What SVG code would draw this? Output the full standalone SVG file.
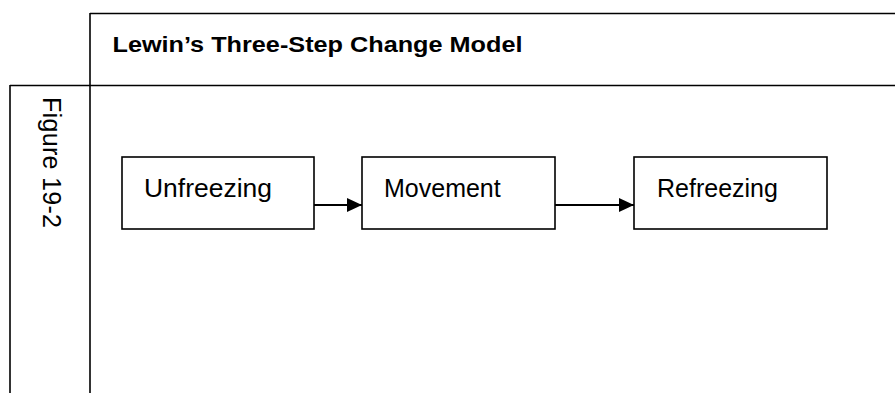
<svg xmlns="http://www.w3.org/2000/svg" width="895" height="393" viewBox="0 0 895 393">
  <style>
    .grid { stroke: #000; stroke-width: 1.6; fill: none; }
    .box { fill: #fff; stroke: #000; stroke-width: 1.6; }
    .lbl { font-family: "Liberation Sans", Arial, sans-serif; font-size: 25px; fill: #000; }
    .title { font-family: "Liberation Sans", Arial, sans-serif; font-size: 22.5px; font-weight: bold; fill: #000; }
    .conn { stroke: #000; stroke-width: 2; fill: none; }
  </style>
  <defs>
    <marker id="arrow" markerWidth="16" markerHeight="14" refX="15" refY="7" orient="auto" markerUnits="userSpaceOnUse">
      <path d="M0,0 L15,7 L0,14 Z" fill="#000"/>
    </marker>
  </defs>
  <rect width="895" height="393" fill="#fff"/>
  <g id="frame">
    <line class="grid" x1="90" y1="13.5" x2="895" y2="13.5"/>
    <line class="grid" x1="10" y1="85.5" x2="895" y2="85.5"/>
    <line class="grid" x1="10" y1="85" x2="10" y2="393"/>
    <line class="grid" x1="90" y1="13" x2="90" y2="393"/>
  </g>
  <g id="title">
    <text class="title" x="112.5" y="51.5" textLength="410" lengthAdjust="spacingAndGlyphs">Lewin’s Three-Step Change Model</text>
  </g>
  <g id="figure-label">
    <text class="lbl" transform="translate(43,97) rotate(90)" textLength="131" lengthAdjust="spacing">Figure 19-2</text>
  </g>
  <g id="connectors">
    <line class="conn" x1="314" y1="205" x2="362" y2="205" marker-end="url(#arrow)"/>
    <line class="conn" x1="555" y1="205" x2="634" y2="205" marker-end="url(#arrow)"/>
  </g>
  <g id="node-unfreezing">
    <rect class="box" x="122" y="157" width="192" height="72"/>
    <text class="lbl" x="144" y="197" textLength="128" lengthAdjust="spacingAndGlyphs">Unfreezing</text>
  </g>
  <g id="node-movement">
    <rect class="box" x="362" y="157" width="193" height="72"/>
    <text class="lbl" x="384" y="197">Movement</text>
  </g>
  <g id="node-refreezing">
    <rect class="box" x="634" y="157" width="193" height="72"/>
    <text class="lbl" x="657" y="197">Refreezing</text>
  </g>
</svg>
